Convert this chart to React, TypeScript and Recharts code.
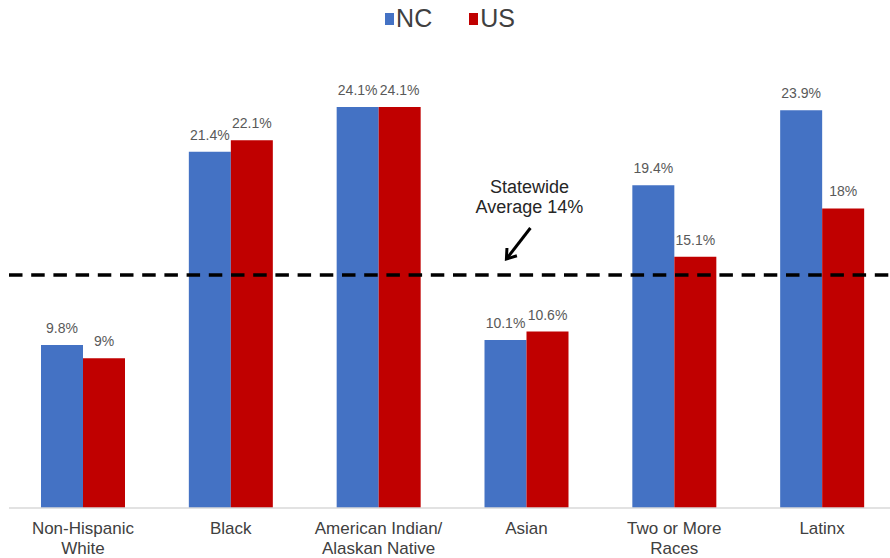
import React from "react";
import {
  BarChart,
  Bar,
  XAxis,
  YAxis,
  ReferenceLine,
  ReferenceDot,
  LabelList,
  Legend,
} from "recharts";

// Groups along the x axis, with their two-line tick labels
const groups = ["Non-Hispanic White", "Black", "American Indian/Alaskan Native", "Asian", "Two or More Races", "Latinx"];
const tickLines = [
  ["Non-Hispanic", "White"],
  ["Black"],
  ["American Indian/", "Alaskan Native"],
  ["Asian"],
  ["Two or More", "Races"],
  ["Latinx"],
];

// Rates in percent
const ncValues = [9.8, 21.4, 24.1, 10.1, 19.4, 23.9];
const usValues = [9, 22.1, 24.1, 10.6, 15.1, 18];

const statewideAverage = 14;
const averageLabel = ["Statewide", "Average 14%"];

const series = [
  { key: "NC", color: "#4472C4" },
  { key: "US", color: "#C00000" },
];

const data = groups.map((g, i) => ({ group: g, NC: ncValues[i], US: usValues[i] }));

const FONT = '"Liberation Sans", Arial, sans-serif';

const GroupTick = (props: any) => {
  const { x, y, index } = props;
  const lines = tickLines[index] || [];
  return (
    <text x={x} y={y} textAnchor="middle" fill="#404040" fontSize={17} fontFamily={FONT}>
      {lines.map((t, i) => (
        <tspan key={i} x={x} y={y + 25.5 + i * 20.5}>
          {t}
        </tspan>
      ))}
    </text>
  );
};

const LegendContent = () => (
  <div
    style={{
      display: "flex",
      justifyContent: "center",
      alignItems: "center",
      fontFamily: FONT,
      fontSize: 25,
      lineHeight: "25px",
      color: "#404040",
      gap: 37,
      paddingLeft: 0,
    }}
  >
    {series.map((s) => (
      <div key={s.key} style={{ display: "flex", alignItems: "center" }}>
        <span style={{ display: "inline-block", width: 9, height: 12, background: s.color, marginRight: 2 }} />
        <span>{s.key}</span>
      </div>
    ))}
  </div>
);

// Callout text with an arrow pointing at the average line
const AverageCallout = (props: any) => {
  const vb = props.viewBox || {};
  const cx = vb.x + (vb.width || 0) / 2;
  const cy = vb.y + (vb.height || 0) / 2;
  const tail = { x: cx + 4, y: cy - 47 };
  const tip = { x: cx - 20, y: cy - 16 };
  const dx = tip.x - tail.x;
  const dy = tip.y - tail.y;
  const len = Math.hypot(dx, dy);
  const ux = dx / len;
  const uy = dy / len;
  const head = 11;
  const ang = (35 * Math.PI) / 180;
  const rot = (a: number) => ({
    x: tip.x - head * (ux * Math.cos(a) - uy * Math.sin(a)),
    y: tip.y - head * (ux * Math.sin(a) + uy * Math.cos(a)),
  });
  const p1 = rot(ang);
  const p2 = rot(-ang);
  return (
    <g>
      <text x={cx + 3} y={cy - 82} textAnchor="middle" fill="#262626" fontSize={18} fontFamily={FONT}>
        {averageLabel.map((t, i) => (
          <tspan key={i} x={cx + 3} y={cy - 82 + i * 20}>
            {t}
          </tspan>
        ))}
      </text>
      <line x1={tail.x} y1={tail.y} x2={tip.x - ux * 2} y2={tip.y - uy * 2} stroke="#000" strokeWidth={3} />
      <polyline
        points={`${p1.x},${p1.y} ${tip.x},${tip.y} ${p2.x},${p2.y}`}
        fill="none"
        stroke="#000"
        strokeWidth={3}
        strokeLinejoin="miter"
      />
    </g>
  );
};

export default function App() {
  return (
    <div style={{ position: "absolute", left: 0, top: 0, width: 890, height: 558, overflow: "hidden", background: "#fff" }}>
      <BarChart
        width={900}
        height={558}
        data={data}
        margin={{ top: 42, right: 4, left: 9, bottom: 0 }}
        barGap={0}
        barSize={42}
        style={{ fontFamily: FONT }}
      >
        <XAxis
          dataKey="group"
          height={50}
          interval={0}
          tickLine={false}
          tickSize={0}
          tickMargin={0}
          axisLine={{ stroke: "#D9D9D9", strokeWidth: 1.5 }}
          tick={<GroupTick />}
        />
        <YAxis hide domain={[0, 28]} />
        <Legend
          layout="horizontal"
          verticalAlign="middle"
          align="center"
          wrapperStyle={{ top: 6, left: 0, width: 900 }}
          content={<LegendContent />}
        />
        {series.map((s) => (
          <Bar key={s.key} dataKey={s.key} fill={s.color} isAnimationActive={false}>
            <LabelList
              dataKey={s.key}
              position="top"
              offset={12}
              formatter={(v: any) => `${v}%`}
              fill="#595959"
              fontSize={14}
              fontFamily={FONT}
            />
          </Bar>
        ))}
        <ReferenceLine
          y={statewideAverage}
          stroke="#000"
          strokeWidth={3.5}
          strokeDasharray="13.5 8.7"
        />
        <ReferenceDot
          x="Asian"
          y={statewideAverage}
          r={0}
          fill="none"
          stroke="none"
          label={<AverageCallout />}
        />
      </BarChart>
    </div>
  );
}
